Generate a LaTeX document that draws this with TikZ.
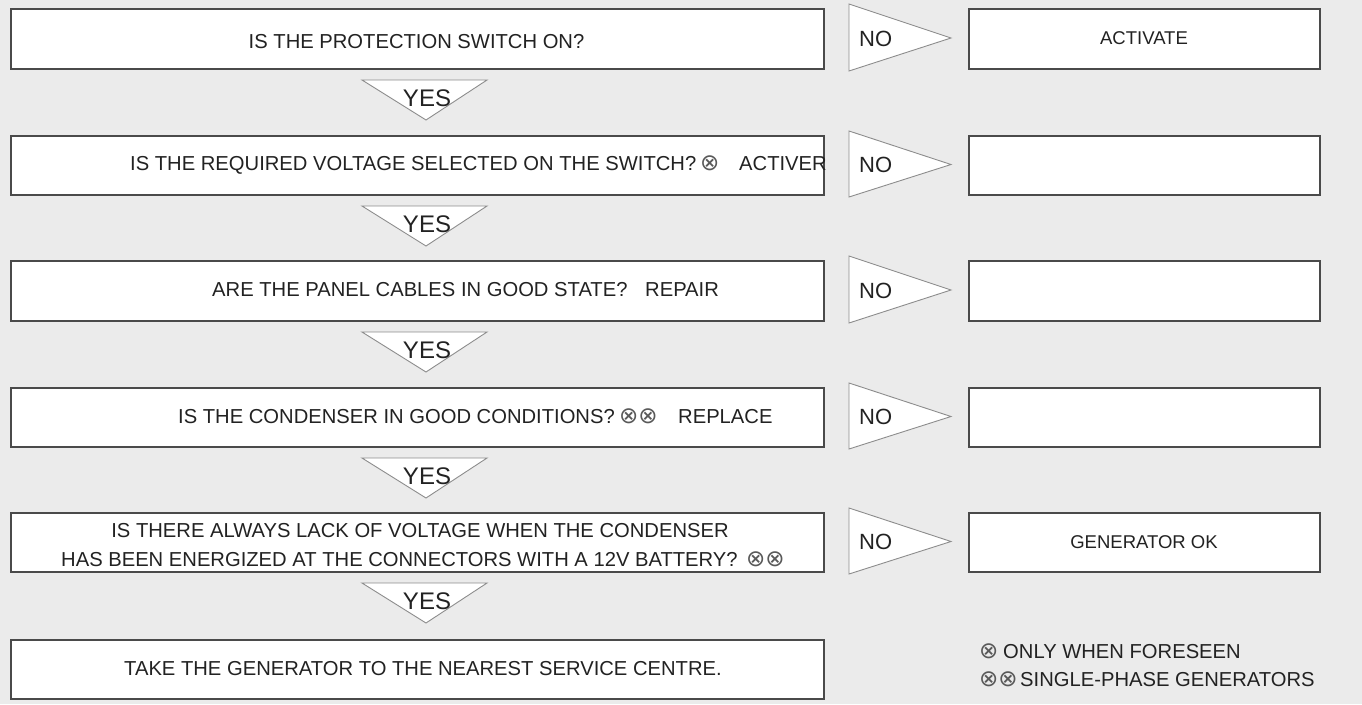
\documentclass[tikz,border=0pt]{standalone}
\usepackage{fontspec}
\setmainfont{Liberation Sans}
\newfontfamily\symfont{DejaVu Sans}
\definecolor{bg}{HTML}{EBEBEB}
\definecolor{boxline}{HTML}{4A4A4A}
\definecolor{triline}{HTML}{8C8C8C}
\definecolor{txt}{HTML}{222222}
\begin{document}
\begin{tikzpicture}[x=1pt,y=-1pt,
  qbox/.style={draw=boxline, line width=1.6pt, fill=white, minimum width=813pt, anchor=north west, inner sep=0pt},
  abox/.style={draw=boxline, line width=1.6pt, fill=white, minimum width=351pt, anchor=north west, inner sep=0pt},
  tri/.style={draw=triline, line width=0.9pt, fill=white, line join=miter},
  qtext/.style={inner sep=0pt, text=txt, font=\fontsize{20.2}{24}\selectfont},
  atext/.style={inner sep=0pt, text=txt, font=\fontsize{18.5}{22}\selectfont},
  notext/.style={anchor=base west, inner sep=0pt, text=txt, font=\fontsize{22}{26}\selectfont},
  yestext/.style={anchor=base, inner sep=0pt, text=txt, font=\fontsize{24}{28}\selectfont},
  symtext/.style={anchor=base west, inner sep=0pt, text=txt!75, font=\symfont\fontsize{23}{26}\selectfont},
]
\fill[bg] (0,0) rectangle (1362,704);
\useasboundingbox (0,0) rectangle (1362,704);

% left question boxes
\node[qbox, minimum height=60pt] (q1) at (10,8) {};
\node[qbox, minimum height=59pt] (q2) at (10,135) {};
\node[qbox, minimum height=60pt] (q3) at (10,260) {};
\node[qbox, minimum height=59pt] (q4) at (10,387) {};
\node[qbox, minimum height=59pt] (q5) at (10,512) {};
\node[qbox, minimum height=59pt] (q6) at (10,639) {};

% right answer boxes
\node[abox, minimum height=60pt] (a1) at (968,8) {};
\node[abox, minimum height=59pt] (a2) at (968,135) {};
\node[abox, minimum height=60pt] (a3) at (968,260) {};
\node[abox, minimum height=59pt] (a4) at (968,387) {};
\node[abox, minimum height=59pt] (a5) at (968,512) {};

% YES triangles
\foreach \b [count=\i] in {68,194,320,446,571}{
  \filldraw[tri] (362,\b+12) -- (487,\b+12) -- (426,\b+52) -- cycle;
  \node[yestext] (yes\i) at (427,\b+38) {YES};
}

% NO triangles
\foreach \t/\b [count=\i] in {8/68,135/194,260/320,387/446,512/571}{
  \filldraw[tri] (849,\t-4) -- (951,{(\t+\b)/2}) -- (849,\b+3) -- cycle;
  \node[notext] (no\i) at (859,{(\t+\b)/2+8}) {NO};
}

% question texts
\node[qtext, anchor=base] (t1) at (416.5,48) {IS THE PROTECTION SWITCH ON?};

\node[qtext, anchor=base west] (t2) at (130,170) {IS THE REQUIRED VOLTAGE SELECTED ON THE SWITCH?};
\node[symtext] (s2) at (700,170) {⊗};
\node[qtext, anchor=base west] (w2) at (739,170) {ACTIVER};

\node[qtext, anchor=base west] (t3) at (212,296) {ARE THE PANEL CABLES IN GOOD STATE?};
\node[qtext, anchor=base west] (w3) at (645,296) {REPAIR};

\node[qtext, anchor=base west] (t4) at (178,423) {IS THE CONDENSER IN GOOD CONDITIONS?};
\node[symtext] (s4) at (619,423) {⊗⊗};
\node[qtext, anchor=base west] (w4) at (678,423) {REPLACE};

\node[qtext, anchor=base] (t5a) at (420,537) {IS THERE ALWAYS LACK OF VOLTAGE WHEN THE CONDENSER};
\node[qtext, anchor=base west] (t5b) at (61,566) {HAS BEEN ENERGIZED AT THE CONNECTORS WITH A 12V BATTERY?};
\node[symtext] (s5) at (746,566) {⊗⊗};

\node[qtext, anchor=base west] (t6) at (124,675) {TAKE THE GENERATOR TO THE NEAREST SERVICE CENTRE.};

% answer texts
\node[atext, anchor=base] (r1) at (1144,44) {ACTIVATE};
\node[atext, anchor=base] (r5) at (1144,548) {GENERATOR OK};

% legend
\node[symtext] (l1s) at (979,658) {⊗};
\node[qtext, anchor=base west] (l1) at (1003,658) {ONLY WHEN FORESEEN};
\node[symtext] (l2s) at (979,686) {⊗⊗};
\node[qtext, anchor=base west] (l2) at (1020,686) {SINGLE-PHASE GENERATORS};
\end{tikzpicture}
\end{document}
